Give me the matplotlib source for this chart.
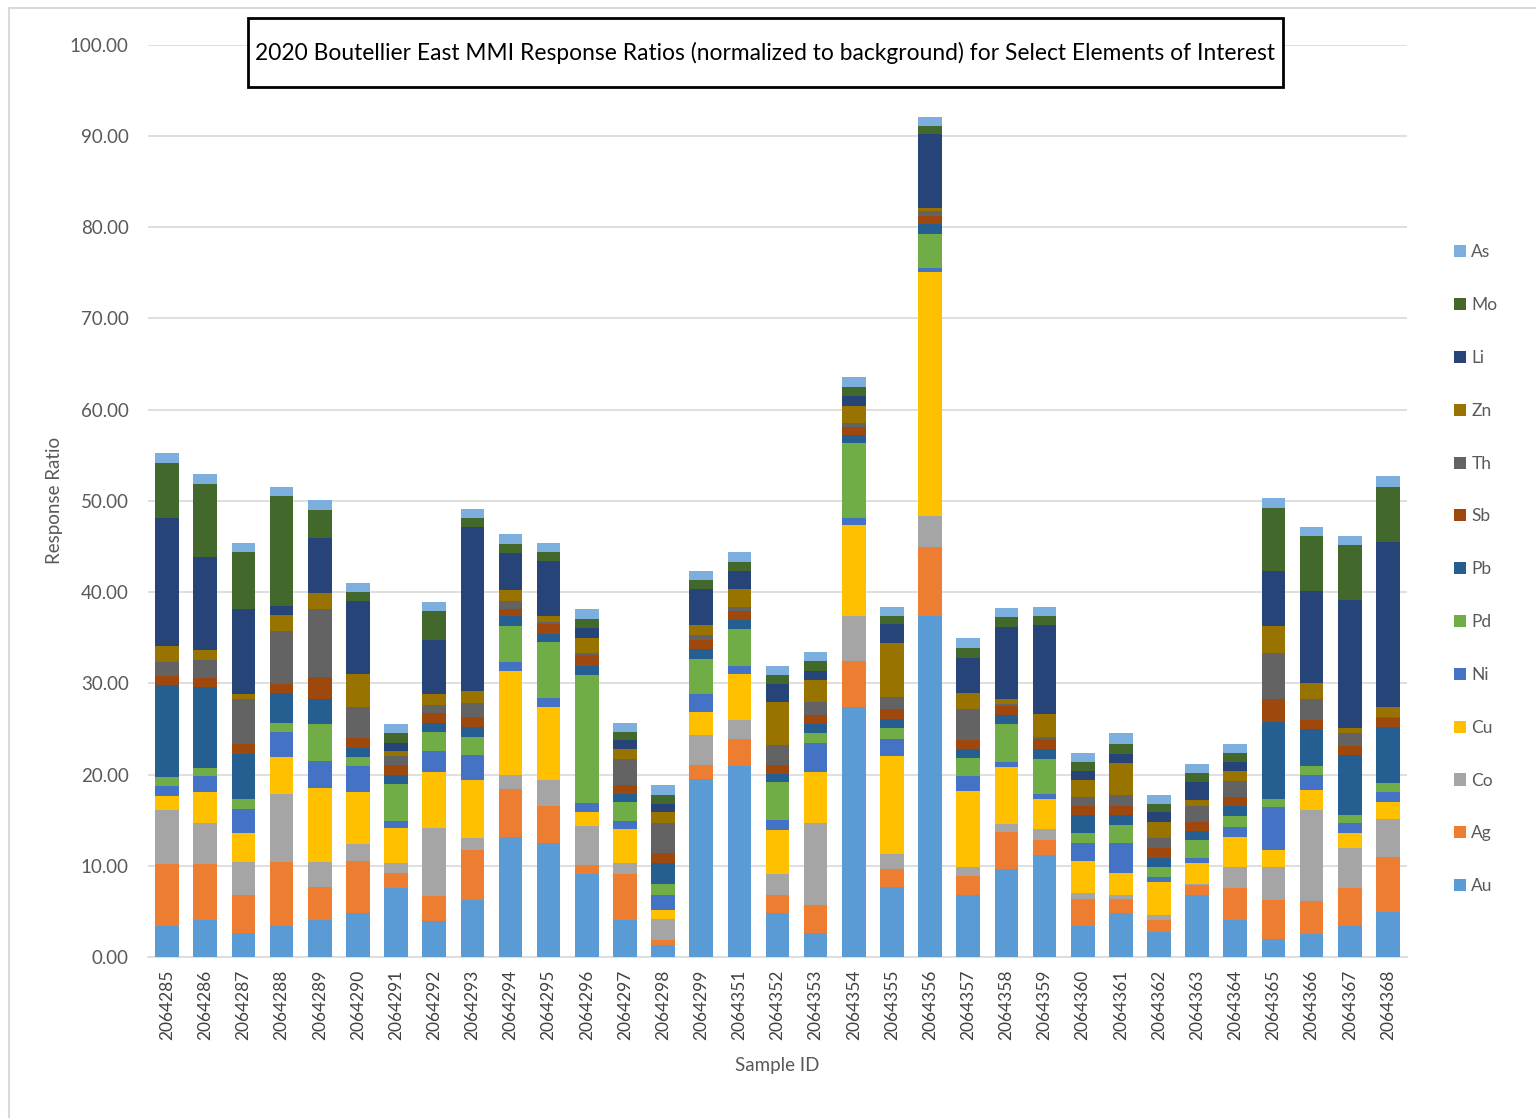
import matplotlib.pyplot as plt
import numpy as np

samples = ['2064285', '2064286', '2064287', '2064288', '2064289', '2064290', '2064291',
           '2064292', '2064293', '2064294', '2064295', '2064296', '2064297', '2064298',
           '2064299', '2064351', '2064352', '2064353', '2064354', '2064355', '2064356',
           '2064357', '2064358', '2064359', '2064360', '2064361', '2064362', '2064363',
           '2064364', '2064365', '2064366', '2064367', '2064368']

# razoes de resposta por elemento (base -> topo da pilha)
au = [3.4, 4.1, 2.6, 3.4, 4.1, 4.8, 7.55, 4.0, 6.2, 13.2, 12.5, 9.1, 4.1, 1.3, 19.55, 20.9, 4.85,
      2.6, 27.35, 7.7, 37.4, 6.85, 9.7, 11.15, 3.45, 4.85, 2.7, 6.85, 4.05, 1.95, 2.55, 3.4, 4.9]
ag = [6.8, 6.1, 4.2, 7.0, 3.55, 5.7, 1.7, 2.7, 5.5, 5.25, 4.05, 1.0, 5.05, 0.6, 1.45, 3.05, 2.0,
      3.1, 5.15, 1.95, 7.55, 2.05, 3.95, 1.7, 2.9, 1.5, 1.35, 1.0, 3.55, 4.3, 3.6, 4.2, 6.05]
co = [5.9, 4.5, 3.6, 7.5, 2.75, 1.9, 1.1, 7.4, 1.3, 1.45, 2.9, 4.3, 1.1, 2.3, 3.3, 2.0, 2.25,
      8.95, 4.9, 1.65, 3.35, 1.0, 0.9, 1.2, 0.65, 0.45, 0.55, 0.2, 2.3, 3.6, 10.0, 4.4, 4.2]
cu = [1.5, 3.4, 3.2, 4.0, 8.1, 5.7, 3.8, 6.2, 6.4, 11.4, 7.95, 1.5, 3.75, 1.0, 2.55, 5.1, 4.8,
      5.6, 9.95, 10.75, 26.75, 8.25, 6.3, 3.3, 3.5, 2.45, 3.65, 2.3, 3.3, 1.85, 2.2, 1.55, 1.85]
ni = [1.1, 1.7, 2.6, 2.8, 3.0, 2.85, 0.8, 2.3, 2.75, 1.0, 1.0, 1.0, 0.95, 1.65, 1.95, 0.9, 1.1,
      3.2, 0.8, 1.9, 0.5, 1.65, 0.55, 0.5, 2.0, 3.2, 0.55, 0.45, 1.1, 4.7, 1.55, 1.1, 1.1]
pd_ = [1.0, 0.9, 1.1, 1.0, 4.0, 1.0, 4.0, 2.1, 1.95, 3.95, 6.1, 14.05, 2.0, 1.15, 3.9, 4.0, 4.2,
       1.1, 8.15, 1.2, 3.75, 2.0, 4.15, 3.9, 1.1, 2.0, 1.1, 2.0, 1.2, 0.9, 1.0, 0.95, 1.0]
pb = [10.1, 8.9, 4.9, 3.2, 2.8, 1.0, 1.0, 1.0, 1.1, 1.1, 0.95, 1.0, 0.95, 2.25, 1.1, 1.0, 0.9,
      0.95, 0.9, 0.9, 1.0, 1.0, 1.0, 1.1, 2.0, 1.1, 0.9, 1.0, 1.0, 8.45, 4.05, 6.5, 6.1]
sb = [1.0, 1.0, 1.1, 1.0, 2.4, 1.1, 1.1, 1.0, 1.1, 0.8, 1.0, 1.1, 1.0, 1.1, 1.0, 1.0, 1.0,
      1.0, 0.9, 1.1, 0.9, 0.95, 1.0, 1.1, 1.0, 1.0, 1.1, 1.0, 1.05, 2.55, 1.0, 1.0, 1.0]
th = [1.5, 2.0, 4.95, 5.8, 7.4, 3.4, 1.0, 0.9, 1.55, 0.9, 0.25, 0.3, 2.8, 3.35, 0.5, 0.45, 2.1,
      1.45, 0.45, 1.3, 0.6, 3.45, 0.2, 0.2, 0.9, 1.2, 1.1, 1.7, 1.75, 5.05, 2.3, 1.45, 0.1]
zn = [1.8, 1.1, 0.55, 1.8, 1.8, 3.6, 0.5, 1.2, 1.3, 1.2, 0.65, 1.65, 1.1, 1.2, 1.1, 1.95, 4.75,
      2.45, 1.9, 5.95, 0.3, 1.7, 0.5, 2.45, 1.85, 3.55, 1.85, 0.75, 1.1, 2.95, 1.75, 0.6, 1.15]
li = [14.0, 10.1, 9.35, 1.0, 6.05, 7.95, 0.9, 6.0, 18.0, 4.05, 6.05, 1.1, 1.0, 0.9, 3.9, 2.0, 2.0,
      0.95, 1.0, 2.1, 8.15, 3.9, 7.9, 9.8, 1.0, 1.0, 1.0, 1.95, 1.0, 6.05, 10.1, 13.95, 18.05]
mo = [6.1, 8.1, 6.2, 12.0, 3.0, 1.0, 1.1, 3.1, 1.0, 1.0, 1.0, 1.0, 0.9, 1.0, 1.0, 1.0, 1.0,
      1.05, 1.0, 0.9, 0.8, 1.1, 1.1, 1.0, 1.0, 1.1, 0.9, 1.0, 1.0, 6.9, 6.0, 6.1, 6.05]
as_ = [1.0, 1.0, 1.0, 1.0, 1.1, 1.0, 1.0, 1.0, 1.0, 1.05, 1.0, 1.0, 1.0, 1.0, 1.0, 1.0, 1.0,
       1.0, 1.1, 1.0, 1.0, 1.1, 1.0, 1.0, 1.0, 1.1, 1.0, 1.0, 1.0, 1.05, 1.05, 0.9, 1.15]

elementos = ['Au', 'Ag', 'Co', 'Cu', 'Ni', 'Pd', 'Pb', 'Sb', 'Th', 'Zn', 'Li', 'Mo', 'As']
series = [au, ag, co, cu, ni, pd_, pb, sb, th, zn, li, mo, as_]
cores = ['#5B9BD5', '#ED7D31', '#A5A5A5', '#FFC000', '#4472C4', '#70AD47', '#255E91',
         '#9E480E', '#636363', '#997300', '#264478', '#43682B', '#7CAFDD']

plt.rcParams['font.family'] = ['Lato', 'DejaVu Sans']

fig = plt.figure(figsize=(15.36, 11.18), dpi=100)
ax = fig.add_axes([0.0964, 0.144, 0.8196, 0.816])

ind = np.arange(len(samples))
base = np.zeros(len(samples))
barras = []
for nome, valores, cor in zip(elementos, series, cores):
    b = ax.bar(ind, valores, 0.62, bottom=base, color=cor, label=nome, zorder=3)
    barras.append(b)
    base = base + np.array(valores)

ax.set_xlim(-0.5, len(samples) - 0.5)
ax.set_ylim(0, 100)
ax.set_yticks(np.arange(0, 101, 10))
ax.set_yticklabels(['%.2f' % v for v in np.arange(0, 101, 10)], fontsize=13.5, color='#595959')
ax.set_xticks(ind)
ax.set_xticklabels(samples, rotation=90, fontsize=12.5, color='#404040')
ax.tick_params(axis='y', length=0, pad=14)
ax.tick_params(axis='x', length=0, pad=9)
ax.grid(axis='y', color='#D9D9D9', linewidth=1.2, zorder=0)
for lado in ['top', 'right', 'left']:
    ax.spines[lado].set_visible(False)
ax.spines['bottom'].set_color('#D9D9D9')
ax.spines['bottom'].set_linewidth(1.2)

ax.set_ylabel('Response Ratio', fontsize=13.5, color='#595959', labelpad=5)
ax.set_xlabel('Sample ID', fontsize=13.5, color='#595959', labelpad=12)

# caixa do titulo
fig.patches.append(plt.Rectangle((0.1615, 0.9222), 0.6738, 0.0617, transform=fig.transFigure,
                                 facecolor='white', edgecolor='black', linewidth=2, zorder=5))
fig.text(0.498, 0.9526,
         '2020 Boutellier East MMI Response Ratios (normalized to background) for Select Elements of Interest',
         ha='center', va='center', fontsize=16.4, color='black', zorder=6)

ax.legend(barras[::-1], elementos[::-1], loc='center left', bbox_to_anchor=(1.025, 0.425),
          frameon=False, fontsize=12.5, labelcolor='#595959', handlelength=0.7, handleheight=0.7,
          handletextpad=0.3, labelspacing=2.12)

# moldura cinza clara em volta da figura
fig.patches.append(plt.Rectangle((0.006, -0.01), 1.2, 1.003, transform=fig.transFigure,
                                 fill=False, edgecolor='#D9D9D9', linewidth=1.5))

plt.savefig('out.png', dpi=100, facecolor='white')
